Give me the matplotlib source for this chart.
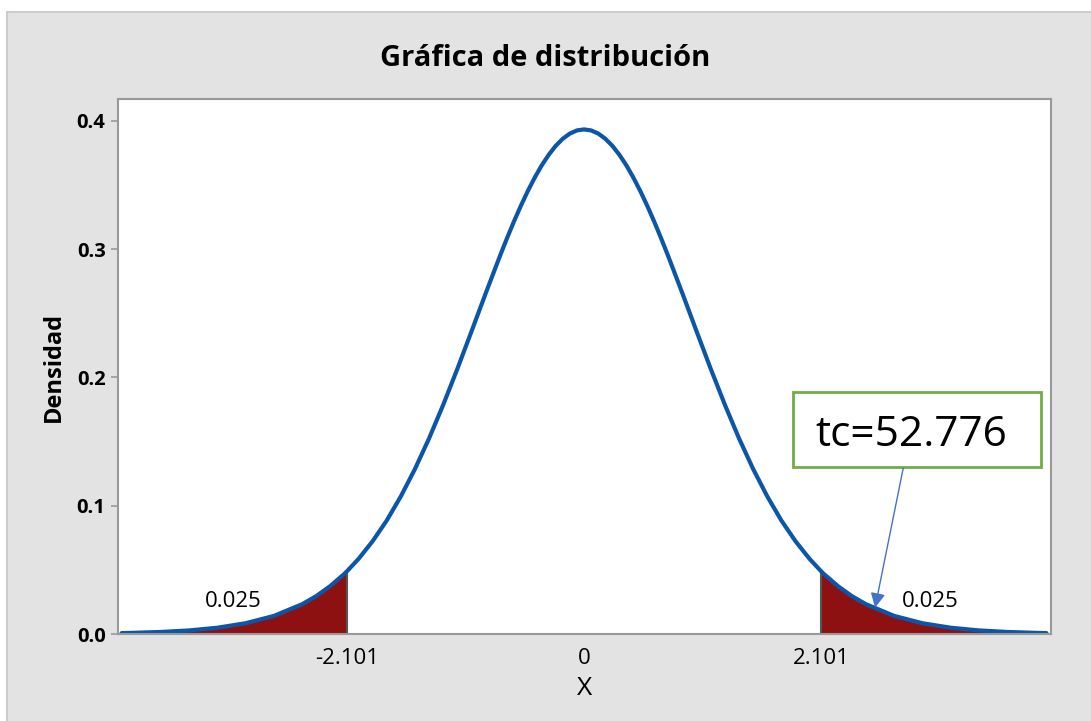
import matplotlib.pyplot as plt
from matplotlib.patches import Rectangle
import numpy as np

plt.rcParams["font.family"] = ["Open Sans", "DejaVu Sans"]

# density of the plotted t curve, right half (curve is symmetric about 0)
x_half = [0, 0.0625, 0.125, 0.1875, 0.25, 0.3125, 0.375, 0.4375, 0.5, 0.5625,
          0.625, 0.6875, 0.75, 0.875, 1.0, 1.125, 1.25,
          1.375, 1.5, 1.625, 1.75, 1.875, 2.0, 2.101, 2.125, 2.25, 2.375, 2.5,
          2.75, 3.0, 3.25, 3.5, 3.75, 4.0, 4.1]
dens_half = [0.3934, 0.3926, 0.3902, 0.3862, 0.3807, 0.3737, 0.3654, 0.3558,
             0.3451, 0.3334, 0.3209, 0.3076, 0.2937, 0.2649,
             0.2354, 0.2063, 0.1784, 0.1523, 0.1285, 0.1072, 0.0884, 0.0723,
             0.0585, 0.0490, 0.0469, 0.0374, 0.0295, 0.0232, 0.0141, 0.0084,
             0.0049, 0.0028, 0.0016, 0.0009, 0.0007]
t_crit = 2.101
tail_area = "0.025"
tc_label = "tc=52.776"
x_ticks = [-2.101, 0, 2.101]
x_ticklabels = ["-2.101", "0", "2.101"]
y_ticks = [0.0, 0.1, 0.2, 0.3, 0.4]

x = np.array([-v for v in x_half[:0:-1]] + x_half)
y = np.array(dens_half[:0:-1] + dens_half)
f_crit = dens_half[x_half.index(t_crit)]

fig = plt.figure(figsize=(10.91, 7.21), dpi=100)
fig.patch.set_facecolor("white")
fig.patches.append(Rectangle((7 / 1091, -0.01), 1.0, 1 - 12 / 721 + 0.01,
                             transform=fig.transFigure, facecolor="#e3e3e3",
                             edgecolor="#cccccc", linewidth=1.5, zorder=-10))

ax = fig.add_axes([118 / 1091, 1 - 634 / 721, 933 / 1091, 535 / 721])
ax.set_facecolor("white")

red = "#8e1111"
ax.fill_between(x, 0, y, where=x >= t_crit, color=red, linewidth=0)
ax.fill_between(x, 0, y, where=x <= -t_crit, color=red, linewidth=0)
ax.vlines([-t_crit, t_crit], 0, f_crit, color="#555555", linewidth=1.5)
ax.plot(x, y, color="#0b56a8", linewidth=3, solid_capstyle="round")

ax.set_xlim(-4.132, 4.14)
ax.set_ylim(0, 0.4171)
ax.set_xticks(x_ticks)
ax.set_xticklabels(x_ticklabels)
ax.set_yticks(y_ticks)
ax.set_yticklabels(["%.1f" % v for v in y_ticks], fontweight="bold")
ax.tick_params(axis="x", length=0, pad=10, labelsize=16)
ax.tick_params(axis="y", length=5, width=1.2, color="#999999", pad=4, labelsize=14.5)
for s in ax.spines.values():
    s.set_color("#999999")
    s.set_linewidth(1.5)

ax.set_xlabel("X", fontsize=19, labelpad=5)
ax.set_ylabel("Densidad", fontsize=17, fontweight="bold", labelpad=8)
fig.text(0.5, 1 - 58 / 721, "Gráfica de distribución", ha="center", va="center",
         fontsize=21, fontweight="bold")

ax.text(-3.11, 0.025, tail_area, ha="center", va="center", fontsize=16)
ax.text(3.07, 0.025, tail_area, ha="center", va="center", fontsize=16)

ax.add_patch(Rectangle((1.853, 0.1302), 2.198, 0.0585, facecolor="white",
                       edgecolor="#70ad47", linewidth=2, zorder=5))
ax.text(2.90, 0.1555, tc_label, ha="center", va="center", fontsize=30.5, zorder=6)
ax.annotate("", xy=(2.58, 0.0205), xytext=(2.83, 0.1294),
            arrowprops=dict(arrowstyle="-|>", color="#4472c4", lw=1,
                            mutation_scale=22, shrinkA=0, shrinkB=0), zorder=6)

fig.savefig("out.png", dpi=100)
